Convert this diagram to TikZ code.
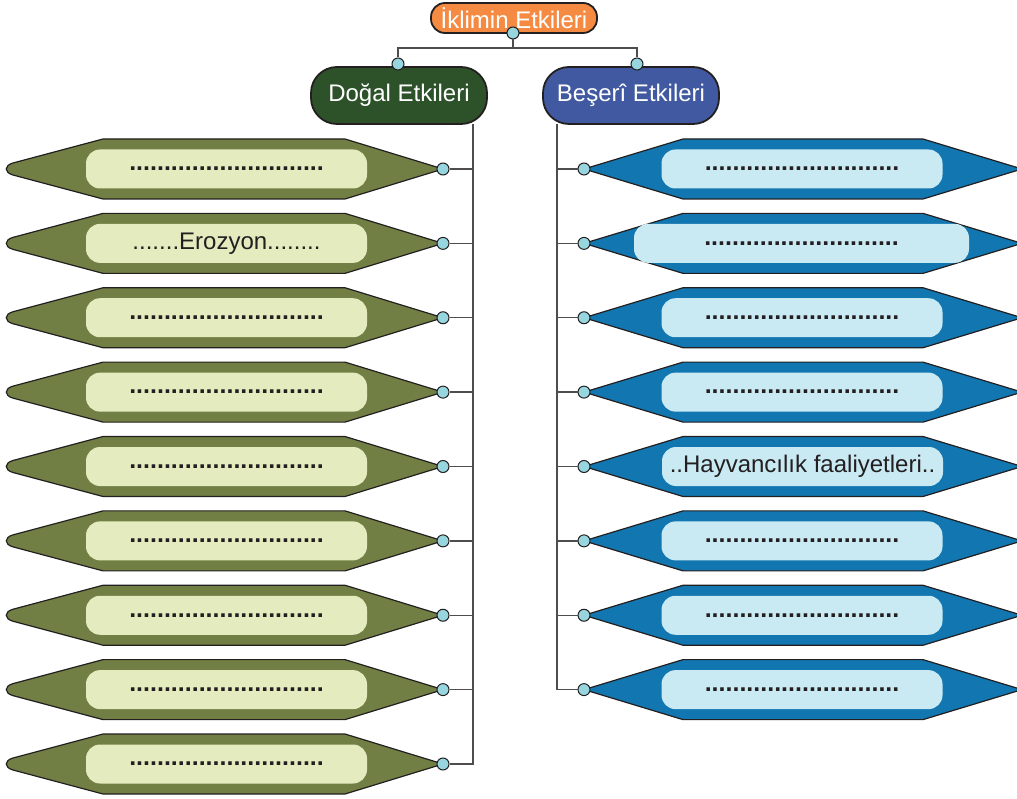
\documentclass[tikz,border=0pt]{standalone}
\usepackage{fontspec}
\setmainfont{Liberation Sans}

\definecolor{kokRenk}{HTML}{F58B43}
\definecolor{dogalKoyu}{HTML}{2D5229}
\definecolor{beseriKoyu}{HTML}{4159A0}
\definecolor{dogalDis}{HTML}{717F44}
\definecolor{dogalIc}{HTML}{E4EBBE}
\definecolor{beseriDis}{HTML}{1276B0}
\definecolor{beseriIc}{HTML}{C9E9F3}
\definecolor{noktaRenk}{HTML}{97D5DF}
\definecolor{cizgi}{HTML}{231F20}

\newcommand{\noktalar}{{\fontsize{25}{28}\selectfont\bfseries ............................}}

\begin{document}
\begin{tikzpicture}[x=1pt,y=-1pt,
	every node/.style={font=\fontsize{24}{28}\selectfont},
	baslik/.style={draw=cizgi, line width=1.8pt, rounded corners=26pt, minimum width=176pt, minimum height=57pt, inner sep=0pt, text=white},
	nokta/.style={circle, draw=cizgi, fill=noktaRenk, line width=1pt, minimum size=12pt, inner sep=0pt},
	kol/.style={draw=cizgi!80, line width=1.4pt},
	dis/.style={draw=cizgi, line width=1.2pt, line join=round},
	ickutu/.style={rounded corners=14pt, minimum height=39pt, inner sep=0pt, text=cizgi}]
	\path[use as bounding box, clip] (0,0) rectangle (1017,799);
	% basliklar
	\node[baslik, fill=kokRenk, minimum width=166pt, minimum height=30pt, rounded corners=14pt] (iklim) at (514,18) {İklimin Etkileri};
	\node[baslik, fill=dogalKoyu] (dogal) at (399,95.5) {Doğal Etkileri};
	\node[baslik, fill=beseriKoyu] (beseri) at (631,95.5) {Beşerî Etkileri};
	\node[nokta] (iklimDot) at (513,33) {};
	\node[nokta] (dogalDot) at (398,64) {};
	\node[nokta] (beseriDot) at (637,64) {};
	\coordinate (catal) at (513,48);
	\draw[kol] (iklimDot) -- (catal);
	\draw[kol] (dogalDot) |- (catal) -| (beseriDot);
	% dogal etkiler
	\foreach \i in {1,...,9}{
		\pgfmathsetmacro{\y}{169+(\i-1)*74.375}
		\draw[dis, fill=dogalDis] (13,\y-6) -- (103,\y-30) -- (345,\y-30) -- (443,\y) -- (345,\y+30) -- (103,\y+30) -- (13,\y+6) .. controls (4,\y+3.5) and (4,\y-3.5) .. cycle;
		\node[ickutu, fill=dogalIc, minimum width=281pt] (Lk\i) at (226.5,\y) {\ifnum\i=2 .......Erozyon........\else\noktalar\fi};
		\node[nokta] (L\i) at (443,\y) {};
	}
	% beseri etkiler
	\foreach \i in {1,...,8}{
		\pgfmathsetmacro{\y}{169+(\i-1)*74.375}
		\draw[dis, fill=beseriDis] (584,\y) -- (683,\y-30) -- (923,\y-30) -- (1022,\y) -- (923,\y+30) -- (683,\y+30) -- cycle;
		\ifnum\i=2
			\node[ickutu, fill=beseriIc, minimum width=335pt] (Rk\i) at (801.5,\y) {\noktalar};
		\else\ifnum\i=5
			\node[ickutu, fill=beseriIc, minimum width=281pt] (Rk\i) at (802.5,\y) {..Hayvancılık faaliyetleri..};
		\else
			\node[ickutu, fill=beseriIc, minimum width=281pt] (Rk\i) at (802,\y) {\noktalar};
		\fi\fi
		\node[nokta] (R\i) at (584,\y) {};
	}
	% baglantilar
	\coordinate (dogalKok) at (473,124);
	\coordinate (beseriKok) at (557,124);
	\draw[kol] (dogalKok) |- (L9);
	\draw[kol] (beseriKok) |- (R8);
	\foreach \i in {1,...,8}{
		\draw[kol] (L\i) -- (L\i -| dogalKok);
	}
	\foreach \i in {1,...,7}{
		\draw[kol] (R\i) -- (R\i -| beseriKok);
	}
\end{tikzpicture}
\end{document}
